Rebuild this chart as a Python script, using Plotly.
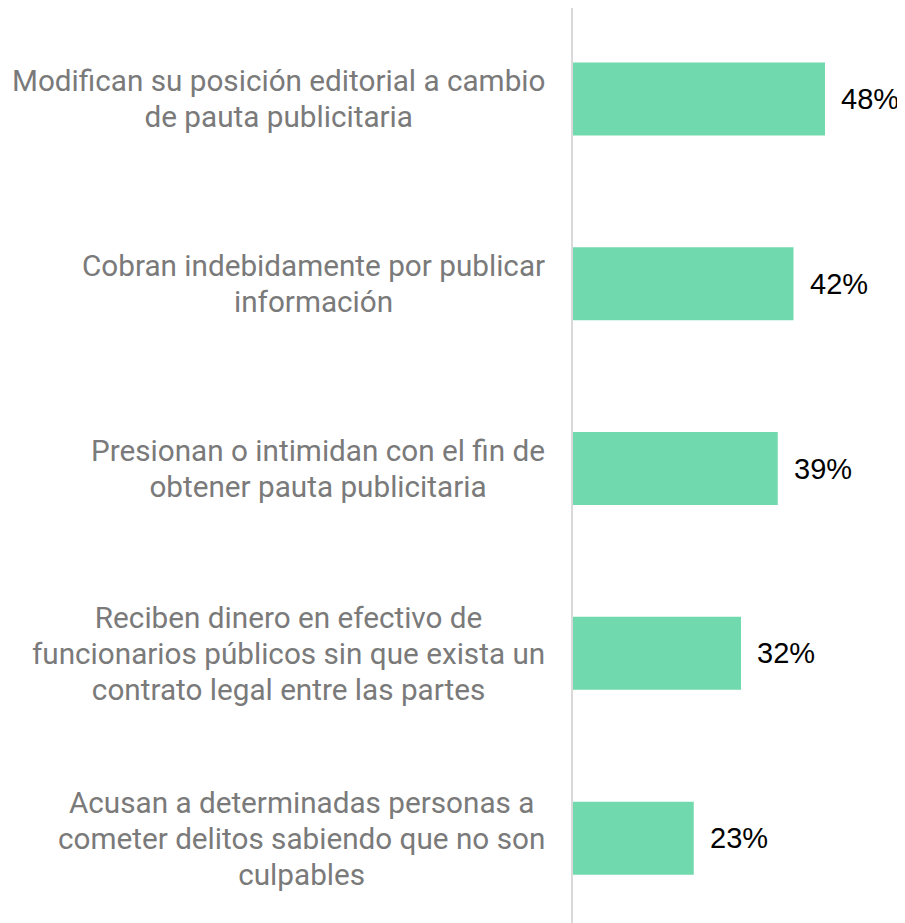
import plotly.graph_objects as go

label_lines = [
    ["Modifican su posición editorial a cambio", "de pauta publicitaria"],
    ["Cobran indebidamente por publicar", "información"],
    ["Presionan o intimidan con el fin de", "obtener pauta publicitaria"],
    ["Reciben dinero en efectivo de", "funcionarios públicos sin que exista un",
     "contrato legal entre las partes"],
    ["Acusan a determinadas personas a", "cometer delitos sabiendo que no son",
     "culpables"],
]
categories = [" ".join(l) for l in label_lines]
values = [48, 42, 39, 32, 23]
value_labels = ["48%", "42%", "39%", "32%", "23%"]

BAR_COLOR = "#70d9ad"
LABEL_COLOR = "#7a7a7a"
GLYPH_SIZE = 29.7
LINE_BASE = 36 / 1.3

fig = go.Figure()
fig.add_trace(go.Bar(
    x=values,
    y=categories,
    orientation="h",
    marker=dict(color=BAR_COLOR, line=dict(width=0)),
    width=0.395,
    hoverinfo="skip",
))

annotations = []
for cat, lines in zip(categories, label_lines):
    txt = "<br>".join(
        f'<span style="font-size:{GLYPH_SIZE}px">{ln}</span>' for ln in lines)
    annotations.append(dict(
        x=0, xref="paper", y=cat, yref="y",
        text=txt, showarrow=False,
        xanchor="right", yanchor="middle", align="center",
        xshift=-26,
        font=dict(family="Roboto", size=LINE_BASE, color=LABEL_COLOR),
    ))
for cat, v, lab in zip(categories, values, value_labels):
    annotations.append(dict(
        x=v, xref="x", y=cat, yref="y",
        text=lab, showarrow=False,
        xanchor="left", yanchor="middle",
        xshift=14,
        font=dict(family="Liberation Sans", size=29, color="#000000"),
    ))

fig.update_layout(
    width=897, height=915,
    margin=dict(l=565, r=17, t=0, b=0),
    paper_bgcolor="white", plot_bgcolor="white",
    showlegend=False,
    annotations=annotations,
    xaxis=dict(range=[0, 60], showgrid=False, zeroline=False,
               showticklabels=False, showline=False, fixedrange=True),
    yaxis=dict(categoryorder="array", categoryarray=categories[::-1],
               range=[-0.459, 4.492], showgrid=False, zeroline=False,
               showticklabels=False, showline=True, linecolor="#d9d9d9",
               linewidth=2, fixedrange=True),
)

fig.write_html("out.html")
